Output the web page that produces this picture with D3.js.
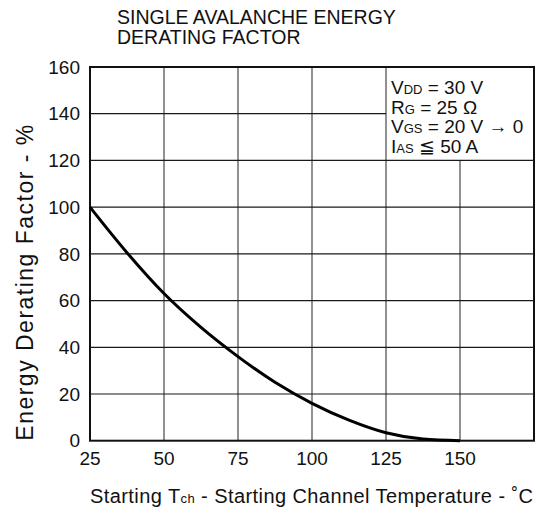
<!DOCTYPE html>
<html>
<head>
<meta charset="utf-8">
<script src="https://cdn.jsdelivr.net/npm/d3@7"></script>
<style>
  body { margin: 0; background: #fff; }
  svg text { font-family: "Liberation Sans", Arial, sans-serif; fill: #111; }
</style>
</head>
<body>
<div id="chart"></div>
<script>
// curve
var temps = [25, 37.5, 50, 62.5, 75, 87.5, 100, 112.5, 125, 137.5, 150];
var factors = [100, 80.5, 63, 48.5, 36, 25, 16, 8.8, 3.4, 0.7, 0];

var xTicks = [25, 50, 75, 100, 125, 150];
var yTicks = [0, 20, 40, 60, 80, 100, 120, 140, 160];
var xGrid = [50, 75, 100, 125, 150];
var yGrid = [20, 40, 60, 80, 100, 120, 140];

var width = 544, height = 513;
var margin = { top: 67, right: 10, bottom: 72.3, left: 90 };

var svg = d3.select("#chart").append("svg")
  .attr("width", width)
  .attr("height", height);

var x = d3.scaleLinear().domain([25, 175]).range([margin.left, width - margin.right]);
var y = d3.scaleLinear().domain([0, 160]).range([height - margin.bottom, margin.top]);

// vertical grid (150 line stops under the conditions box)
xGrid.forEach(function(v) {
  var y1 = v === 150 ? y(120) : y(160);
  svg.append("line")
    .attr("x1", x(v)).attr("x2", x(v))
    .attr("y1", y(0)).attr("y2", y1)
    .attr("stroke", "#555")
    .attr("stroke-width", 1.3);
});

// horizontal grid (140 line stops at the box)
yGrid.forEach(function(v) {
  var x2 = v === 140 ? x(125) : x(175);
  svg.append("line")
    .attr("x1", x(25)).attr("x2", x2)
    .attr("y1", y(v)).attr("y2", y(v))
    .attr("stroke", "#1a1a1a")
    .attr("stroke-width", 1.2);
});

// frame
svg.append("rect")
  .attr("x", x(25)).attr("y", y(160))
  .attr("width", x(175) - x(25))
  .attr("height", y(0) - y(160))
  .attr("fill", "none")
  .attr("stroke", "#111")
  .attr("stroke-width", 2);

// curve
var line = d3.line()
  .x(function(d, i) { return x(temps[i]); })
  .y(function(d) { return y(d); })
  .curve(d3.curveMonotoneX);

svg.append("path")
  .datum(factors)
  .attr("d", line)
  .attr("fill", "none")
  .attr("stroke", "#000")
  .attr("stroke-width", 3);

// tick labels
svg.selectAll(".ytick")
  .data(yTicks)
.enter().append("text")
  .attr("class", "ytick")
  .attr("x", x(25) - 10)
  .attr("y", function(d) { return y(d); })
  .attr("dy", "0.35em")
  .attr("text-anchor", "end")
  .style("font-size", "19px")
  .text(function(d) { return d; });

svg.selectAll(".xtick")
  .data(xTicks)
.enter().append("text")
  .attr("class", "xtick")
  .attr("x", function(d) { return x(d); })
  .attr("y", y(0) + 24)
  .attr("text-anchor", "middle")
  .style("font-size", "19px")
  .text(function(d) { return d; });

// title
var title = svg.append("text")
  .attr("x", 117)
  .attr("y", 24)
  .style("font-size", "19.5px");
title.append("tspan").text("SINGLE AVALANCHE ENERGY");
title.append("tspan").attr("x", 117).attr("dy", 20).text("DERATING FACTOR");

// axis titles
var xl = svg.append("text")
  .attr("x", x(25))
  .attr("y", 503)
  .attr("textLength", x(175) - x(25) - 1)
  .attr("lengthAdjust", "spacing")
  .style("font-size", "20px");
xl.append("tspan").text("Starting T");
xl.append("tspan").style("font-size", "13px").text("ch");
xl.append("tspan").text(" - Starting Channel Temperature - \u02DAC");

svg.append("text")
  .attr("transform", "translate(33," + y(0) + ") rotate(-90)")
  .attr("text-anchor", "start")
  .attr("textLength", 316)
  .attr("lengthAdjust", "spacing")
  .style("font-size", "23px")
  .text("Energy Derating Factor - %");

// conditions
var conds = [
  ["V", "DD", " = 30 V"],
  ["R", "G", " = 25 \u03A9"],
  ["V", "GS", " = 20 V \u2192 0"],
  ["I", "AS", " \u2266 50 A"]
];

conds.forEach(function(c, i) {
  var t = svg.append("text")
    .attr("x", x(125) + 5)
    .attr("y", y(160) + 27 + i * 19.5)
    .style("font-size", "19px");
  t.append("tspan").text(c[0]);
  t.append("tspan").style("font-size", "13px").text(c[1]);
  t.append("tspan").text(c[2]);
});
</script>
</body>
</html>
